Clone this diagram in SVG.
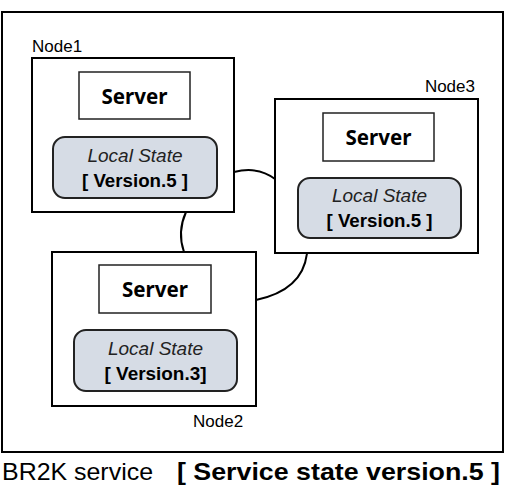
<svg xmlns="http://www.w3.org/2000/svg" width="525" height="486" viewBox="0 0 525 486">
<style>
.box{fill:#fff;stroke:#000;stroke-width:2}
.srv{fill:#fff;stroke:#222;stroke-width:1.5}
.ls{fill:#d6dce5;stroke:#222;stroke-width:2}
.lbl{font-family:"Liberation Sans",Arial,sans-serif;font-size:17px;fill:#000}
.srvt{font-family:"Noto Sans","Open Sans",sans-serif;font-weight:bold;font-size:21px;fill:#000;text-anchor:middle}
.lst{font-family:"Liberation Sans",Arial,sans-serif;font-style:italic;font-size:18px;fill:#222;text-anchor:middle}
.ver{font-family:"Liberation Sans",Arial,sans-serif;font-weight:bold;font-size:18px;fill:#000;text-anchor:middle}
.conn{fill:none;stroke:#000;stroke-width:2}
</style>
<rect width="525" height="486" fill="#fff"/>
<rect id="frame" x="2" y="12" width="501" height="440" fill="#fff" stroke="#000" stroke-width="2"/>
<g id="connectors">
<path class="conn" d="M234,172 Q258,166 275,179"/>
<path class="conn" d="M186,212 Q177,232 184,252"/>
<path class="conn" d="M307,253 Q303,290 256,300"/>
</g>
<g id="node1">
<text class="lbl" x="32" y="52">Node1</text>
<rect class="box" x="32" y="58" width="202" height="154"/>
<rect class="srv" x="79" y="72" width="111" height="47"/>
<text class="srvt" x="134.5" y="104" textLength="66" lengthAdjust="spacingAndGlyphs">Server</text>
<rect class="ls" x="53" y="137" width="164" height="61" rx="12"/>
<text class="lst" x="135" y="162" textLength="95" lengthAdjust="spacingAndGlyphs">Local State</text>
<text class="ver" x="135" y="187" textLength="106" lengthAdjust="spacingAndGlyphs">[ Version.5 ]</text>
</g>
<g id="node3">
<text class="lbl" x="475" y="92" text-anchor="end">Node3</text>
<rect class="box" x="275" y="99" width="203" height="154"/>
<rect class="srv" x="323" y="113" width="111" height="48"/>
<text class="srvt" x="378.5" y="145" textLength="66" lengthAdjust="spacingAndGlyphs">Server</text>
<rect class="ls" x="298" y="178" width="163" height="60" rx="12"/>
<text class="lst" x="379.5" y="202" textLength="95" lengthAdjust="spacingAndGlyphs">Local State</text>
<text class="ver" x="379.5" y="227" textLength="106" lengthAdjust="spacingAndGlyphs">[ Version.5 ]</text>
</g>
<g id="node2">
<rect class="box" x="52" y="252" width="204" height="154"/>
<rect class="srv" x="99" y="265" width="112" height="48"/>
<text class="srvt" x="155" y="297" textLength="66" lengthAdjust="spacingAndGlyphs">Server</text>
<rect class="ls" x="74" y="330" width="163" height="61" rx="12"/>
<text class="lst" x="155.5" y="355" textLength="95" lengthAdjust="spacingAndGlyphs">Local State</text>
<text class="ver" x="155.5" y="380" textLength="102" lengthAdjust="spacingAndGlyphs">[ Version.3]</text>
<text class="lbl" x="193" y="427">Node2</text>
</g>
<g id="caption">
<text x="2" y="480" font-family="Liberation Sans,Arial,sans-serif" font-size="24" fill="#000" textLength="151" lengthAdjust="spacingAndGlyphs">BR2K service</text>
<text x="177" y="480" font-family="Liberation Sans,Arial,sans-serif" font-size="24" font-weight="bold" fill="#000" textLength="323" lengthAdjust="spacingAndGlyphs">[ Service state version.5 ]</text>
</g>
</svg>
